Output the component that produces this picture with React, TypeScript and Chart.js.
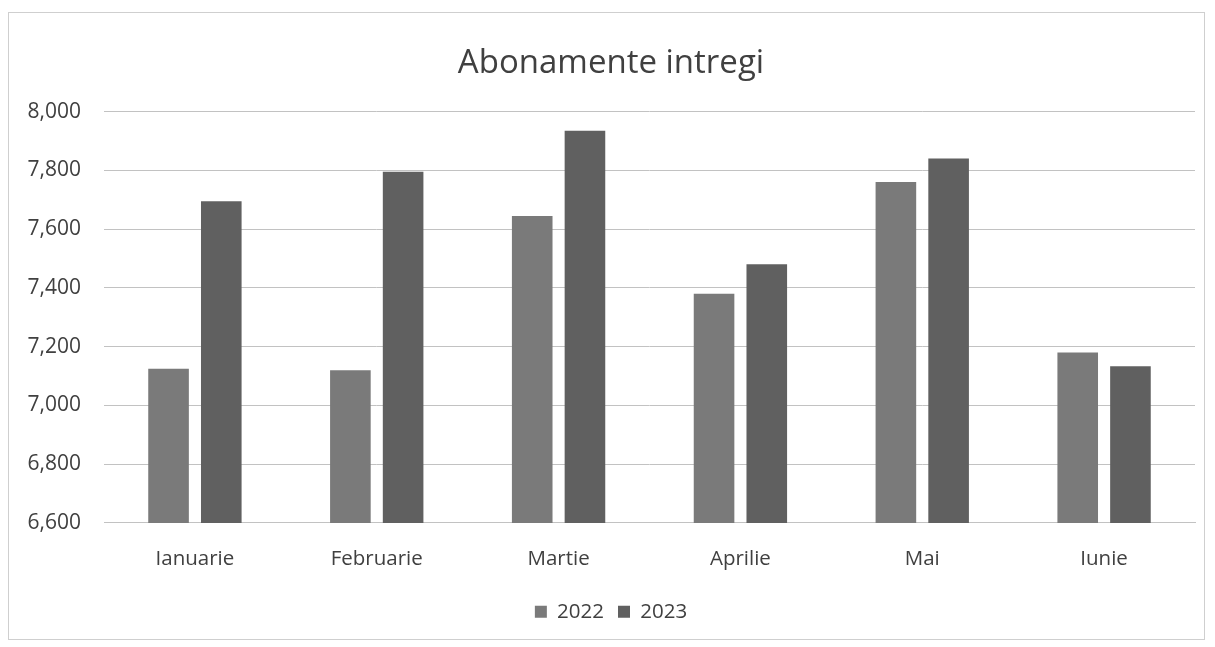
import React, { useEffect, useRef } from "react";
import { Chart, registerables } from "chart.js";

Chart.register(...registerables);

const categories = ["Ianuarie", "Februarie", "Martie", "Aprilie", "Mai", "Iunie"];
const series2022 = [7125, 7120, 7645, 7380, 7760, 7180];
const series2023 = [7695, 7795, 7935, 7480, 7840, 7133];
const seriesNames = ["2022", "2023"];
const chartTitle = "Abonamente intregi";

const FONT = "'Open Sans', 'Noto Sans', sans-serif";
const TEXT = "#404040";

export default function App() {
  const ref = useRef<HTMLCanvasElement | null>(null);

  useEffect(() => {
    if (!ref.current) return;
    const chart = new Chart(ref.current, {
      type: "bar",
      data: {
        labels: categories,
        datasets: [
          {
            label: seriesNames[0],
            data: series2022,
            backgroundColor: "#7a7a7a",
            categoryPercentage: 0.58,
            barPercentage: 0.77,
          },
          {
            label: seriesNames[1],
            data: series2023,
            backgroundColor: "#606060",
            categoryPercentage: 0.58,
            barPercentage: 0.77,
          },
        ],
      },
      options: {
        animation: false,
        responsive: false,
        maintainAspectRatio: false,
        layout: { padding: { left: 18, right: 9, top: 31, bottom: 7 } },
        plugins: {
          title: {
            display: true,
            text: chartTitle,
            color: TEXT,
            font: { family: FONT, size: 33, weight: "normal" },
            padding: { top: 0, bottom: 28 },
          },
          legend: {
            position: "bottom",
            labels: {
              color: TEXT,
              font: { family: FONT, size: 20.5 },
              boxWidth: 12,
              boxHeight: 12,
              padding: 14,
            },
          },
          tooltip: { enabled: false },
        },
        scales: {
          x: {
            grid: { display: false },
            border: { color: "#c2c2c2" },
            ticks: { color: TEXT, font: { family: FONT, size: 20.5 }, padding: 16 },
          },
          y: {
            min: 6600,
            max: 8000,
            border: { display: false },
            grid: { color: "#c2c2c2", drawTicks: false },
            afterFit: (scale: any) => {
              scale.width = 77;
            },
            ticks: {
              stepSize: 200,
              color: TEXT,
              padding: 23,
              font: { family: FONT, size: 21 },
              callback: (v: any) => Number(v).toLocaleString("en-US"),
            },
          },
        },
      },
    });
    return () => chart.destroy();
  }, []);

  return (
    <div style={{ position: "fixed", left: 0, top: 0, width: 1215, height: 647, background: "#fff" }}>
      <div
        style={{
          position: "absolute",
          left: 8,
          top: 12,
          width: 1197,
          height: 628,
          border: "1px solid #cfcfcf",
          boxSizing: "border-box",
        }}
      >
        <canvas ref={ref} width={1195} height={626} style={{ display: "block" }} />
      </div>
    </div>
  );
}
